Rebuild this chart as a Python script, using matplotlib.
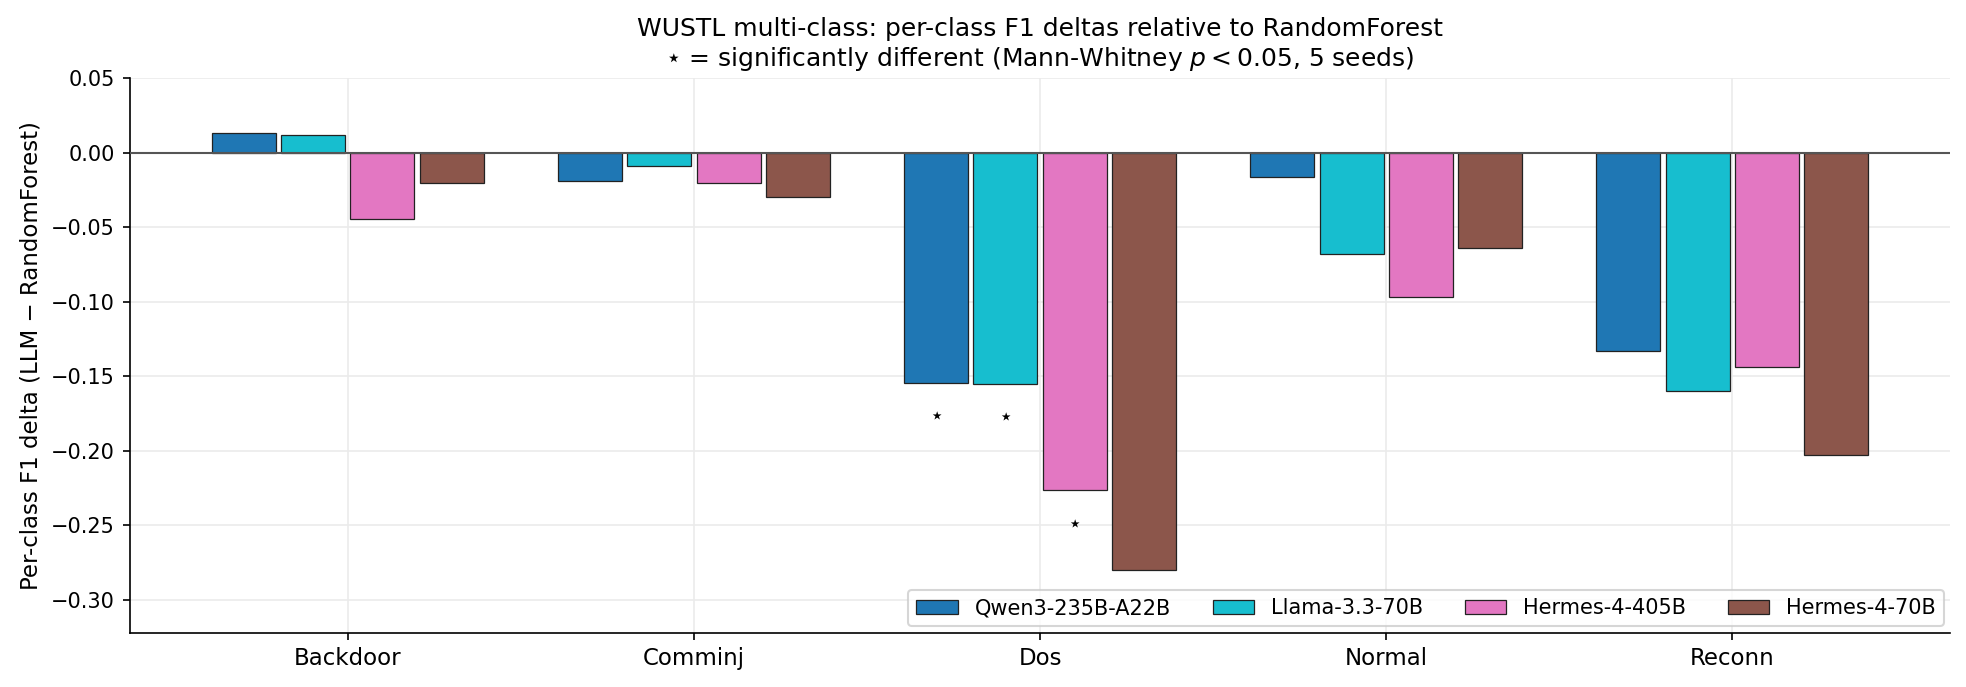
import numpy as np
import matplotlib
matplotlib.use("Agg")
import matplotlib.pyplot as plt

classes = ["Backdoor", "Comminj", "Dos", "Normal", "Reconn"]
models = ["Qwen3-235B-A22B", "Llama-3.3-70B", "Hermes-4-405B", "Hermes-4-70B"]
colors = ["#1f77b4", "#17becf", "#e377c2", "#8c564b"]

# per-class F1 delta (LLM - RandomForest), one list per model
qwen = [0.0133, -0.0187, -0.1544, -0.0159, -0.1332]
llama = [0.0120, -0.0087, -0.1548, -0.0677, -0.1595]
hermes405 = [-0.0447, -0.0200, -0.2265, -0.0965, -0.1437]
hermes70 = [-0.0200, -0.0297, -0.2800, -0.0637, -0.2029]
deltas = [qwen, llama, hermes405, hermes70]

# significance flags (Mann-Whitney p < 0.05)
sig_qwen = [False, False, True, False, False]
sig_llama = [False, False, True, False, False]
sig_hermes405 = [False, False, True, False, False]
sig_hermes70 = [False, False, False, False, False]
sigs = [sig_qwen, sig_llama, sig_hermes405, sig_hermes70]

fig, ax = plt.subplots(figsize=(13.107, 4.58), dpi=150)
fig.subplots_adjust(left=0.066, right=0.992, top=0.886, bottom=0.079)

x = np.arange(len(classes))
step = 0.2
width = 0.185
for i, (name, vals) in enumerate(zip(models, deltas)):
    pos = x + (i - 1.5) * step
    ax.bar(pos, vals, width=width, color=colors[i], edgecolor="#222222",
           linewidth=0.6, label=name, zorder=3)
    for p, v, s in zip(pos, vals, sigs[i]):
        if s:
            ax.text(p, v - 0.023, "\u22c6", ha="center", va="center",
                    fontsize=11, zorder=4)

ax.axhline(0, color="#555555", linewidth=1.0, zorder=4)
ax.set_xticks(x)
ax.set_xticklabels(classes, fontsize=11)
ax.tick_params(axis="y", labelsize=10)
ax.set_xlim(-0.63, 4.63)
ax.set_ylim(-0.322, 0.05)
ax.set_yticks(np.arange(-0.30, 0.051, 0.05))
ax.grid(True, color="#ebebeb", linewidth=0.8, zorder=0)
ax.set_axisbelow(True)
ax.spines["top"].set_visible(False)
ax.spines["right"].set_visible(False)
ax.set_ylabel("Per-class F1 delta (LLM \u2212 RandomForest)", fontsize=11)
ax.set_title("WUSTL multi-class: per-class F1 deltas relative to RandomForest\n"
             "\u22c6 = significantly different (Mann-Whitney $p < 0.05$, 5 seeds)",
             fontsize=12)
ax.legend(loc="lower right", ncol=4, fontsize=10, frameon=True,
          borderaxespad=0.3, columnspacing=2.0)

fig.savefig("out.png", dpi=150)
